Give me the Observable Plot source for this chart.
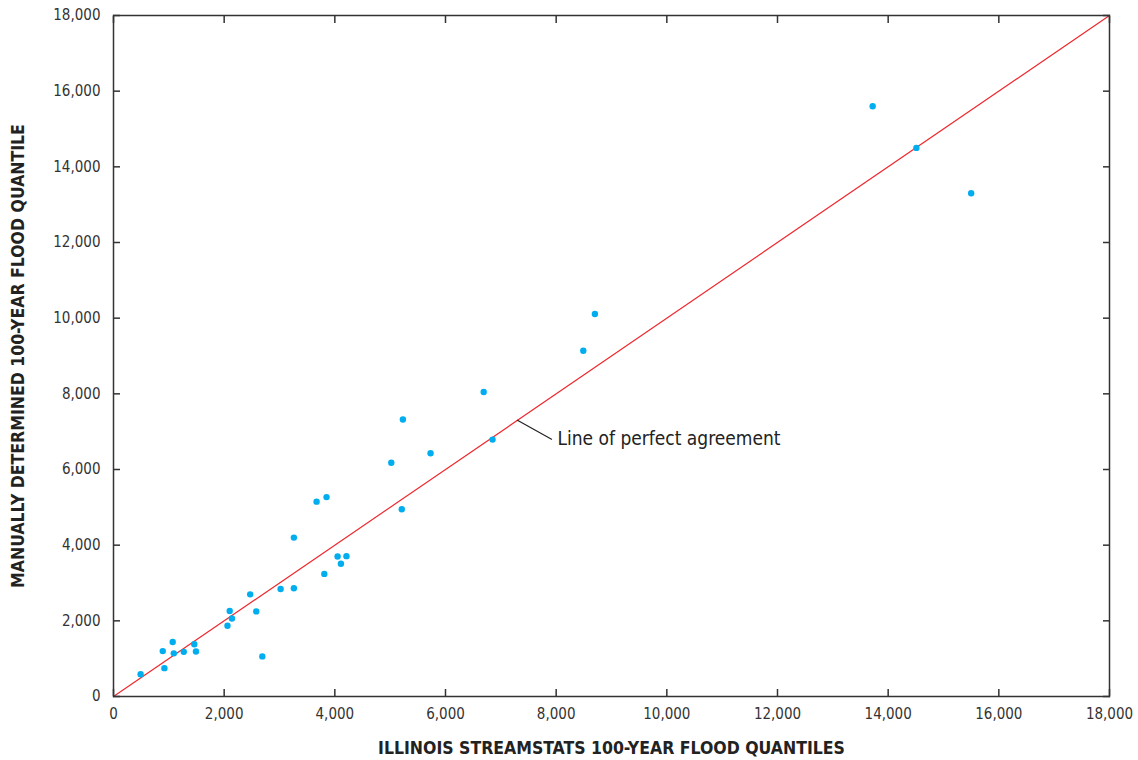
<!DOCTYPE html>
<html><head><meta charset="utf-8">
<script src="https://cdn.jsdelivr.net/npm/d3@7"></script>
<script src="https://cdn.jsdelivr.net/npm/@observablehq/plot@0.6"></script>
<style>body{margin:0;background:#fff}</style>
</head><body><div id="chart"></div>
<script>
const streamstats = [490, 920, 890, 1070, 1090, 1270, 1460, 1490, 2060, 2100, 2140, 2470, 2580, 2690, 3020, 3260, 3260, 3670, 3850, 3810, 4050, 4210, 4110, 5020, 5230, 5210, 5730, 8700, 8490, 6690, 6850, 13720, 14510, 15500];
const manual      = [590, 750, 1200, 1440, 1140, 1180, 1380, 1190, 1870, 2260, 2060, 2700, 2250, 1060, 2840, 2860, 4200, 5150, 5270, 3240, 3700, 3710, 3510, 6180, 7320, 4950, 6430, 10110, 9140, 8050, 6790, 15600, 14500, 13300];
const tickValues = [0, 2000, 4000, 6000, 8000, 10000, 12000, 14000, 16000, 18000];
const agreementLine = [0, 18000];
const lineLabel = "Line of perfect agreement";
const lineLabelAt = 7300;
const xTitle = "ILLINOIS STREAMSTATS 100-YEAR FLOOD QUANTILES";
const yTitle = "MANUALLY DETERMINED 100-YEAR FLOOD QUANTILE";

const points = streamstats.map((x, i) => ({x, y: manual[i]}));
const font = "'Liberation Sans Narrow', 'DejaVu Sans Condensed', 'Arial Narrow', sans-serif";
const fmt = d3.format(",");
const lineShape = {draw(ctx, l) { ctx.moveTo(0, 0); ctx.lineTo(0, -l); }};

const chart = Plot.plot({
  width: 1138, height: 760,
  marginLeft: 113, marginRight: 29, marginTop: 15, marginBottom: 64,
  x: {domain: [0, 18000]},
  y: {domain: [0, 18000]},
  style: {fontFamily: font, fontSize: "15px", color: "#333", background: "#fff"},
  marks: [
    Plot.line(agreementLine.map(v => [v, v]), {stroke: "#EE2A2F", strokeWidth: 1.2}),
    Plot.dot(points, {x: "x", y: "y", r: 3.2, fill: "#00AEEF", stroke: "none"}),
    Plot.vector([lineLabelAt], {x: d => d, y: d => d, length: 39, rotate: 119, anchor: "start", shape: lineShape, stroke: "#222", strokeWidth: 1.2}),
    Plot.text([lineLabelAt], {x: d => d, y: d => d, text: () => lineLabel, dx: 40, dy: 19, textAnchor: "start", fontSize: 19, fill: "#222"}),
    Plot.axisX(tickValues, {tickSize: 0, tickPadding: 12, tickFormat: fmt, fill: "#333", fontSize: 15, label: null}),
    Plot.axisY(tickValues, {tickSize: 0, tickPadding: 13, tickFormat: fmt, fill: "#333", fontSize: 15, label: null}),
    Plot.axisX(tickValues, {anchor: "bottom", tickSize: -7, tickFormat: () => "", label: null, stroke: "#333", strokeWidth: 1.5}),
    Plot.axisX(tickValues, {anchor: "top", tickSize: -7, tickFormat: () => "", label: null, stroke: "#333", strokeWidth: 1.5}),
    Plot.axisY(tickValues, {anchor: "left", tickSize: -7, tickFormat: () => "", label: null, stroke: "#333", strokeWidth: 1.5}),
    Plot.axisY(tickValues, {anchor: "right", tickSize: -7, tickFormat: () => "", label: null, stroke: "#333", strokeWidth: 1.5}),
    Plot.frame({stroke: "#333", strokeWidth: 1.5}),
    Plot.text([xTitle], {frameAnchor: "bottom", dy: 52, textAnchor: "middle", lineAnchor: "middle", text: d => d, fontSize: 17.5, fontWeight: "bold", fill: "#222"}),
    Plot.text([yTitle], {frameAnchor: "left", dx: -95, rotate: -90, textAnchor: "middle", lineAnchor: "middle", text: d => d, fontSize: 17.5, fontWeight: "bold", fill: "#222"})
  ]
});
document.getElementById("chart").append(chart);
</script>
</body></html>
